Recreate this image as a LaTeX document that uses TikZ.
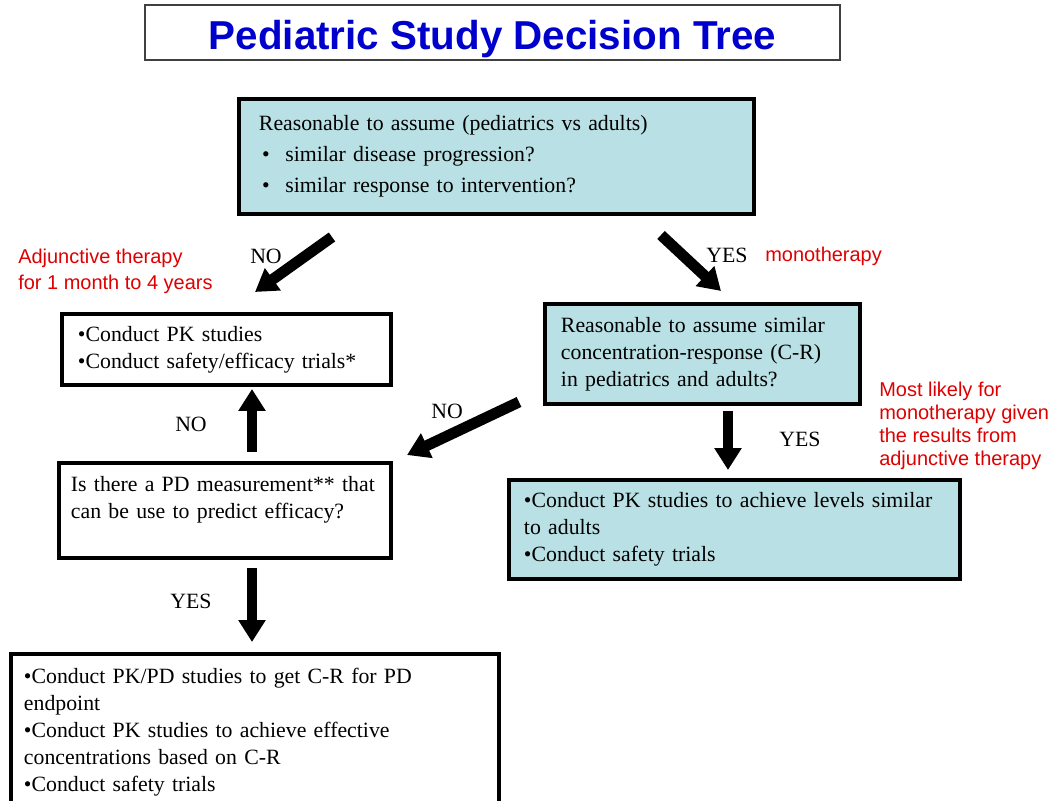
\documentclass[tikz,border=0pt]{standalone}
\usepackage{fontspec}
\setmainfont{Liberation Serif}
\setsansfont{Liberation Sans}
\usepackage{xcolor}
\usepackage{tikz}
\usetikzlibrary{calc, arrows.meta, positioning}

\definecolor{boxcyan}{RGB}{185,224,228}
\definecolor{titleblue}{RGB}{0,0,204}
\definecolor{notered}{RGB}{222,0,0}
\newcommand{\topbullet}{\hspace*{0.08cm}\makebox[0.58cm][l]{\textbullet}}

\begin{document}
\begin{tikzpicture}[x=0.025cm, y=-0.025cm,
        box/.style={draw, line width=2.8pt, anchor=north west, align=left,
            inner xsep=0.4cm, inner ysep=0pt, font=\fontsize{15.5}{19.2}\selectfont},
        cbox/.style={box, fill=boxcyan},
        fat/.style={line width=7.8pt, -{Triangle[width=18.5pt, length=15.6pt]}},
        lab/.style={font=\fontsize{15.5}{19.2}\selectfont, inner sep=0pt},
        note/.style={font=\sffamily\fontsize{14.2}{18.5}\selectfont, text=notered,
            align=left, inner sep=0pt, anchor=west}]
    \useasboundingbox (0,0) rectangle (1052,801);

    % 1. Title
    \node[draw=black!75, line width=1.2pt, anchor=base, minimum width=17.375cm,
        inner ysep=0pt, text height=1.125cm, text depth=0.25cm,
        font=\sffamily\bfseries\fontsize{28.7}{30}\selectfont, text=titleblue]
        (title) at (492.5,50) {Pediatric Study Decision Tree};

    % 2. Boxes
    \node[cbox, inner xsep=0.5cm, text width=11.875cm, minimum height=2.875cm,
        font=\fontsize{15.5}{22}\selectfont] (assume) at (237,97)
        {Reasonable to assume (pediatrics vs adults)\\
         \topbullet similar disease progression?\\
         \topbullet similar response to intervention?};
    \node[box, text width=7.425cm, minimum height=1.775cm] (pkeff) at (60,312)
        {\textbullet Conduct PK studies\\
         \textbullet Conduct safety/efficacy trials*};
    \node[cbox, text width=7.075cm, minimum height=2.5cm] (crsim) at (543,302)
        {Reasonable to assume similar\\
         concentration-response (C-R)\\
         in pediatrics and adults?};
    \node[box, inner xsep=0.3cm, text width=7.7cm, minimum height=2.375cm] (pdq) at (57,461)
        {Is there a PD measurement** that\\
         can be use to predict efficacy?\\ \mbox{}};
    \node[cbox, inner xsep=0.375cm, text width=10.525cm, minimum height=2.475cm] (pkadult) at (507,478)
        {\textbullet Conduct PK studies to achieve levels similar\\
         to adults\\
         \textbullet Conduct safety trials};
    \node[box, inner xsep=0.325cm, text width=11.55cm, minimum height=4.475cm] (pkpd) at (9,652)
        {\textbullet Conduct PK/PD studies to get C-R for PD\\
         endpoint\\
         \textbullet Conduct PK studies to achieve effective\\
         concentrations based on C-R\\
         \textbullet Conduct safety trials\\ \mbox{}};

    % 3. Arrows
    \coordinate (noA) at (332,237);   \coordinate (noB) at (255,292);
    \coordinate (yesA) at (661,235);  \coordinate (yesB) at (721,291);
    \coordinate (upA) at (252,452);   \coordinate (upB) at (252,389);
    \coordinate (crA) at (519,402);   \coordinate (crB) at (407,455);
    \coordinate (dnA) at (728,411);   \coordinate (dnB) at (728,470);
    \coordinate (pdA) at (252,568);   \coordinate (pdB) at (252,642);
    \draw[fat] (noA) -- (noB);
    \draw[fat] (yesA) -- (yesB);
    \draw[fat] (upA) -- (upB);
    \draw[fat] (crA) -- (crB);
    \draw[fat] (dnA) -- (dnB);
    \draw[fat] (pdA) -- (pdB);

    % 4. Labels
    \node[lab] (no1) at (266,256) {NO};
    \node[lab] (yes1) at (727,255) {YES};
    \node[lab] (no2) at (191,424) {NO};
    \node[lab] (no3) at (447,411) {NO};
    \node[lab] (yes2) at (800,439) {YES};
    \node[lab] (yes3) at (191,601) {YES};

    % 5. Notes
    \node[note] (adj) at (18,271) {Adjunctive therapy\\for 1 month to 4 years};
    \node[note] (mono) at (765,256) {monotherapy};
    \node[note, font=\sffamily\fontsize{14.2}{16.4}\selectfont] (likely) at (879,425.5)
        {Most likely for\\monotherapy given\\the results from\\adjunctive therapy};
\end{tikzpicture}
\end{document}
